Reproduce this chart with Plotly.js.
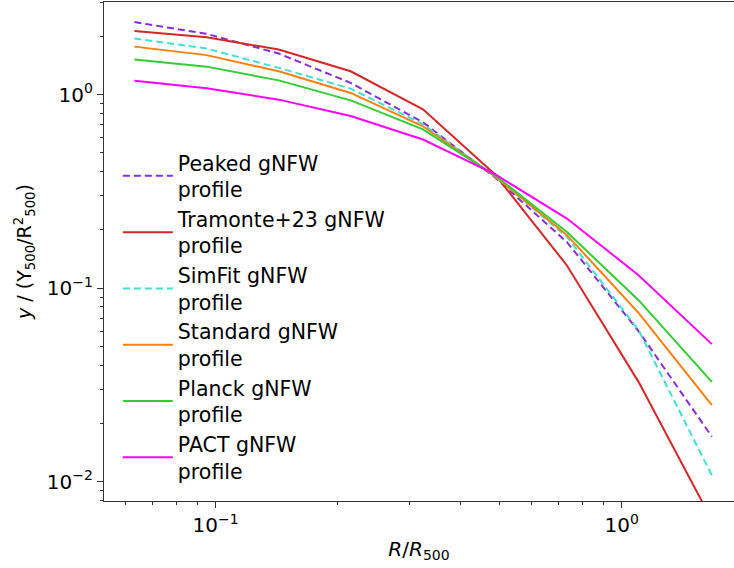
<!DOCTYPE html>
<html>
<head>
<meta charset="utf-8">
<script src="https://cdn.plot.ly/plotly-3.0.1.min.js"></script>
<style>html,body{margin:0;padding:0;background:#fff;}</style>
</head>
<body>
<div id="chart" style="width:734px;height:568px;"></div>
<script>
// Radius R/R500 sample points
const radius = [0.0631, 0.095, 0.143, 0.215, 0.324, 0.487, 0.733, 1.10, 1.667];

// Profiles y/(Y500/R500^2)
const peaked    = [2.37, 2.06, 1.63, 1.15, 0.719, 0.374, 0.173, 0.0600, 0.0171];
const tramonte  = [2.13, 1.98, 1.71, 1.32, 0.840, 0.388, 0.131, 0.0328, 0.00634];
const simfit    = [1.95, 1.73, 1.375, 1.074, 0.703, 0.379, 0.184, 0.0607, 0.0108];
const standard  = [1.77, 1.60, 1.32, 1.02, 0.686, 0.379, 0.188, 0.0746, 0.0249];
const planck    = [1.52, 1.395, 1.185, 0.934, 0.662, 0.383, 0.195, 0.0867, 0.0328];
const pact      = [1.18, 1.08, 0.942, 0.775, 0.586, 0.388, 0.229, 0.1167, 0.0514];

const seriesNames = ['Peaked gNFW<br>profile', 'Tramonte+23 gNFW<br>profile', 'SimFit gNFW<br>profile',
                     'Standard gNFW<br>profile', 'Planck gNFW<br>profile', 'PACT gNFW<br>profile'];

// Tick labels
const xTickVals = [0.1, 1];
const xTickText = ['10<sup>\u22121</sup>', '10<sup>0</sup>'];
const yTickVals = [0.01, 0.1, 1];
const yTickText = ['10<sup>\u22122</sup>', '10<sup>\u22121</sup>', '10<sup>0</sup>'];
const xMinorVals = [0.06, 0.07, 0.08, 0.09, 0.2, 0.3, 0.4, 0.5, 0.6, 0.7, 0.8, 0.9];
const yMinorVals = [0.008, 0.009, 0.02, 0.03, 0.04, 0.05, 0.06, 0.07, 0.08, 0.09,
                    0.2, 0.3, 0.4, 0.5, 0.6, 0.7, 0.8, 0.9, 2, 3];

const seriesData = [peaked, tramonte, simfit, standard, planck, pact];
const styles = [
  {color: '#8a2be2', dash: '7px,4px'},
  {color: '#d62728', dash: 'solid'},
  {color: '#40e0d0', dash: '7px,4px'},
  {color: '#ff7f0e', dash: 'solid'},
  {color: '#32cd32', dash: 'solid'},
  {color: '#ff00ff', dash: 'solid'}
];

const traces = seriesData.map((ys, i) => ({
  x: radius, y: ys, name: seriesNames[i], type: 'scatter', mode: 'lines',
  line: {color: styles[i].color, dash: styles[i].dash, width: 2}
}));

const fontFam = 'DejaVu Sans, sans-serif';
const layout = {
  width: 734, height: 568,
  margin: {l: 104, r: 0, t: 2, b: 67},
  paper_bgcolor: '#fff', plot_bgcolor: '#fff',
  font: {family: fontFam, size: 20, color: '#000'},
  showlegend: true,
  legend: {
    x: 0.022, y: 0.718, xanchor: 'left', yanchor: 'top',
    bgcolor: 'rgba(0,0,0,0)', borderwidth: 0,
    font: {family: fontFam, size: 20.5, color: '#000'},
    itemwidth: 50
  },
  xaxis: {
    type: 'log', range: [Math.log10(0.0531), Math.log10(1.89)],
    tickmode: 'array', tickvals: xTickVals, ticktext: xTickText,
    ticks: 'outside', ticklen: 6, tickwidth: 1, tickcolor: '#333',
    showgrid: false, zeroline: false,
    showline: true, linecolor: '#333', linewidth: 1.2, mirror: true,
    tickfont: {family: fontFam, size: 20},
    minor: {tickmode: 'array', tickvals: xMinorVals, ticks: 'outside', ticklen: 3, tickcolor: '#333', showgrid: false},
    title: {text: '<i>R</i>/<i>R</i><sub>500</sub>', font: {family: fontFam, size: 20}, standoff: 5}
  },
  yaxis: {
    type: 'log', range: [Math.log10(0.00795), Math.log10(3.01)],
    tickmode: 'array', tickvals: yTickVals, ticktext: yTickText,
    ticks: 'outside', ticklen: 6, tickwidth: 1, tickcolor: '#333',
    showgrid: false, zeroline: false,
    showline: true, linecolor: '#333', linewidth: 1.2, mirror: true,
    tickfont: {family: fontFam, size: 20},
    minor: {tickmode: 'array', tickvals: yMinorVals, ticks: 'outside', ticklen: 3, tickcolor: '#333', showgrid: false},
    title: {text: '<i>y</i> / (Y<sub>500</sub>/R<sup>2</sup><sub>500</sub>)', font: {family: fontFam, size: 19}, standoff: 10}
  }
};

Plotly.newPlot('chart', traces, layout, {displayModeBar: false, staticPlot: true});
</script>
</body>
</html>
